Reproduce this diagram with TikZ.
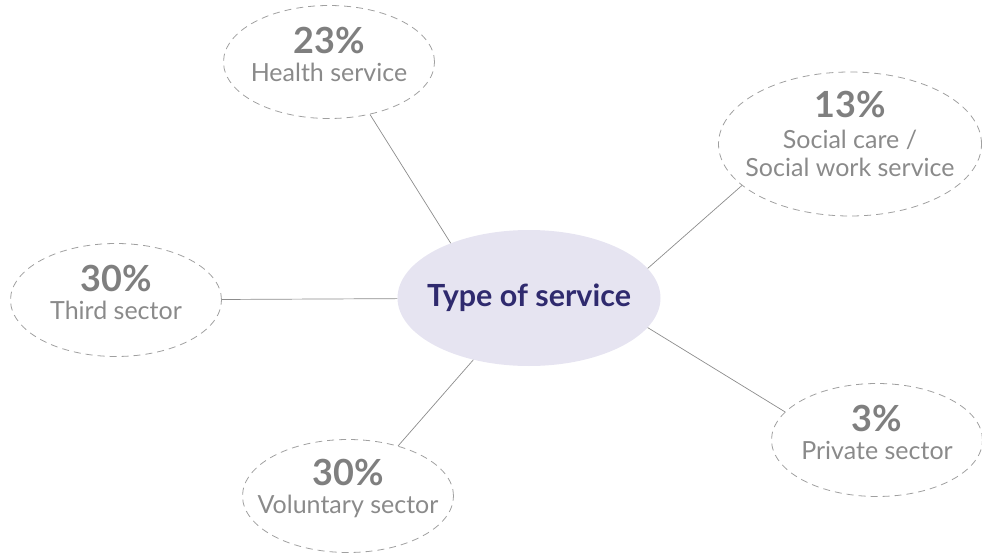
\documentclass[tikz,border=0pt]{standalone}
\usepackage{fontspec}
\setmainfont{Lato}
\usetikzlibrary{shapes.geometric}

\definecolor{hubfill}{HTML}{E6E4F1}
\definecolor{hubtext}{HTML}{2F2A6E}
\definecolor{lblgray}{HTML}{8A8A8A}
\definecolor{pctgray}{HTML}{7F7F7F}
\definecolor{rimgray}{HTML}{A0A0A0}
\definecolor{spokegray}{HTML}{8C8C8C}

\newcommand{\pct}[1]{{\fontsize{36}{36}\selectfont\bfseries\color{pctgray}#1}}

\begin{document}
\begin{tikzpicture}[x=1pt,y=-1pt]
    \tikzstyle{every node}=[ellipse, inner sep=0pt, align=center, text=lblgray, font=\fontsize{25}{28}\selectfont]
    \tikzstyle{sector}=[draw=rimgray, dash pattern=on 7pt off 5pt, line width=0.8pt, minimum width=211pt, minimum height=113pt]
    \tikzstyle{spoke}=[draw=spokegray, line width=0.7pt]

    \useasboundingbox (0,0) rectangle (982,559);

    % centre
    \node (hub) [fill=hubfill, minimum width=263pt, minimum height=136pt,
                 label={[text=hubtext, font=\fontsize{30.5}{32}\selectfont\bfseries]center:Type of service}] at (529,298) {};

    % the five sectors, text put in as a centre label so the ellipse keeps its size
    \node (health)    [sector, label={[yshift=8pt]center:{\pct{23\%}\\Health service}}] at (329,62) {};
    \node (social)    [sector, minimum width=263pt, minimum height=144pt,
                       label={[yshift=10pt]center:{\pct{13\%}\\[3pt]Social care /\\Social work service}}] at (850,144) {};
    \node (third)     [sector, label={[yshift=8pt]center:{\pct{30\%}\\Third sector}}] at (116,300) {};
    \node (voluntary) [sector, label={[yshift=8pt]center:{\pct{30\%}\\Voluntary sector}}] at (348,496) {};
    \node (private)   [sector, label={[yshift=8pt]center:{\pct{3\%}\\Private sector}}] at (877,440) {};

    \draw[spoke] (hub.145) -- (health.308);
    \draw[spoke] (hub.14)  -- (social.201);
    \draw[spoke] (hub)     -- (third);
    \draw[spoke] (hub.228) -- (voluntary.45);
    \draw[spoke] (hub.346) -- (private.163);
\end{tikzpicture}
\end{document}
